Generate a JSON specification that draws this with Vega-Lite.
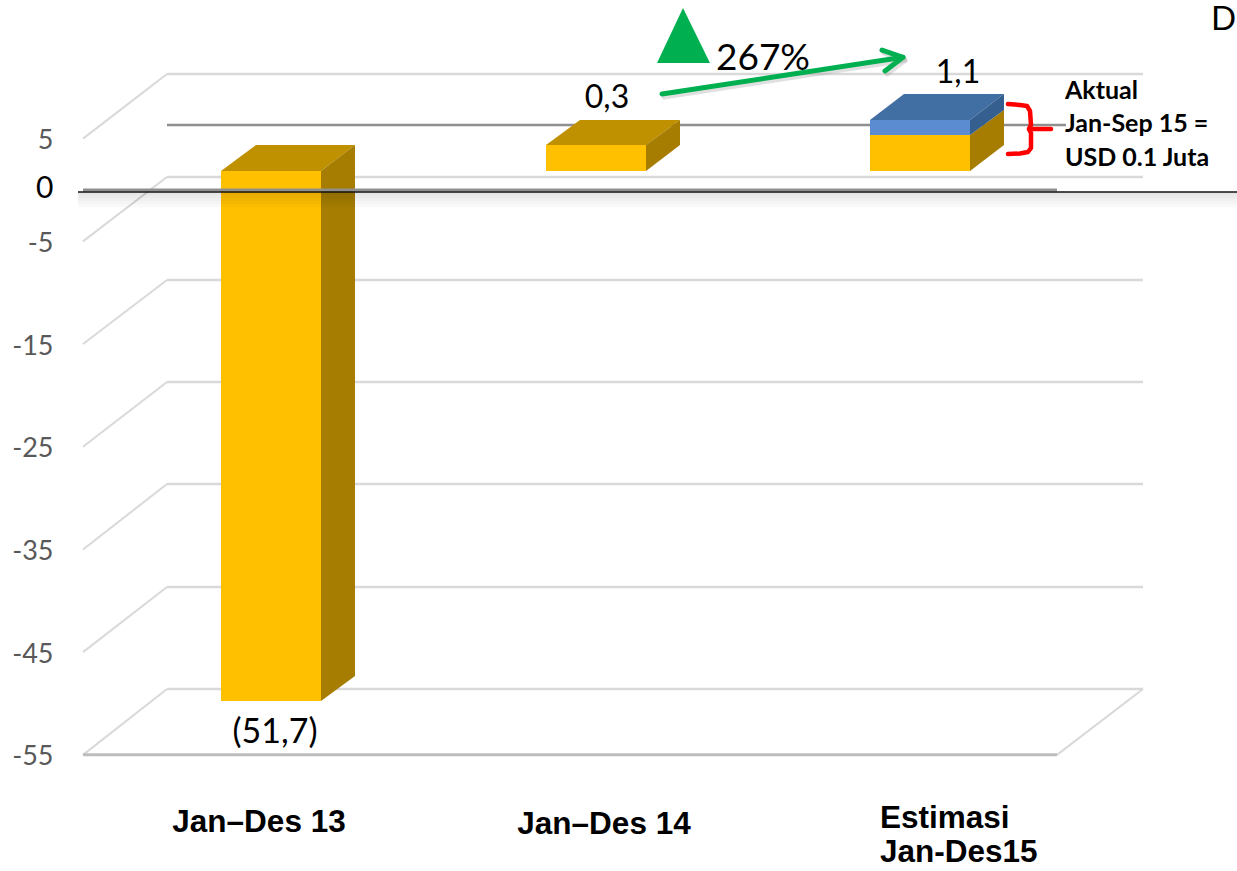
{"$schema":"https://vega.github.io/schema/vega-lite/v6.json","width":1237,"height":871,"padding":0,"autosize":{"type":"none"},"background":"white","config":{"view":{"stroke":null}},
"datasets":{
"rules":[
{"kind":"light","x":167,"x2":1143,"y":11.30},{"kind":"dark","x":167,"x2":1066,"y":6.33},{"kind":"light","x":167,"x2":1143,"y":1.27},{"kind":"light","x":167,"x2":1143,"y":-8.76},{"kind":"light","x":167,"x2":1143,"y":-18.70},{"kind":"light","x":167,"x2":1143,"y":-28.63},{"kind":"light","x":167,"x2":1143,"y":-38.66},{"kind":"light","x":167,"x2":1143,"y":-48.59},{"kind":"floor","x":83,"x2":1057,"y":-55},{"kind":"zero","x":83,"x2":1057,"y":0},{"kind":"zeroTop","x":78,"x2":1237,"y":-0.19}],
"slants":[
{"id":"5","x":83,"y":5},{"id":"5","x":167,"y":11.30},
{"id":"-5","x":83,"y":-5},{"id":"-5","x":167,"y":1.27},
{"id":"-15","x":83,"y":-15},{"id":"-15","x":167,"y":-8.76},
{"id":"-25","x":83,"y":-25},{"id":"-25","x":167,"y":-18.70},
{"id":"-35","x":83,"y":-35},{"id":"-35","x":167,"y":-28.63},
{"id":"-45","x":83,"y":-45},{"id":"-45","x":167,"y":-38.66},
{"id":"-55","x":83,"y":-55},{"id":"-55","x":167,"y":-48.59},
{"id":"right","x":1057,"y":-55},{"id":"right","x":1143,"y":-48.59}],
"faces":[
{"bar":"Jan–Des 13","face":"front","x":221,"y":1.85,"y2":-49.76},{"bar":"Jan–Des 13","face":"front","x":321,"y":1.85,"y2":-49.76},
{"bar":"Jan–Des 13","face":"top","x":221,"y":1.85,"y2":1.85},{"bar":"Jan–Des 13","face":"top","x":256,"y":4.38,"y2":1.85},{"bar":"Jan–Des 13","face":"top","x":321,"y":4.38,"y2":1.85},{"bar":"Jan–Des 13","face":"top","x":355,"y":4.38,"y2":4.38},
{"bar":"Jan–Des 13","face":"side","x":321,"y":1.85,"y2":-49.76},{"bar":"Jan–Des 13","face":"side","x":355,"y":4.38,"y2":-47.32},
{"bar":"Jan–Des 14","face":"front","x":546,"y":4.38,"y2":1.85},{"bar":"Jan–Des 14","face":"front","x":646,"y":4.38,"y2":1.85},
{"bar":"Jan–Des 14","face":"top","x":546,"y":4.38,"y2":4.38},{"bar":"Jan–Des 14","face":"top","x":580,"y":6.82,"y2":4.38},{"bar":"Jan–Des 14","face":"top","x":646,"y":6.82,"y2":4.38},{"bar":"Jan–Des 14","face":"top","x":680,"y":6.82,"y2":6.82},
{"bar":"Jan–Des 14","face":"side","x":646,"y":4.38,"y2":1.85},{"bar":"Jan–Des 14","face":"side","x":680,"y":6.82,"y2":4.38},
{"bar":"Estimasi Jan-Des15","face":"front","x":870,"y":5.36,"y2":1.85},{"bar":"Estimasi Jan-Des15","face":"front","x":970,"y":5.36,"y2":1.85},
{"bar":"Estimasi Jan-Des15","face":"side","x":970,"y":5.36,"y2":1.85},{"bar":"Estimasi Jan-Des15","face":"side","x":1004,"y":7.79,"y2":4.38},
{"bar":"Estimasi Jan-Des15","face":"blue front","x":870,"y":6.82,"y2":5.36},{"bar":"Estimasi Jan-Des15","face":"blue front","x":970,"y":6.82,"y2":5.36},
{"bar":"Estimasi Jan-Des15","face":"blue top","x":870,"y":6.82,"y2":6.82},{"bar":"Estimasi Jan-Des15","face":"blue top","x":904,"y":9.35,"y2":6.82},{"bar":"Estimasi Jan-Des15","face":"blue top","x":970,"y":9.35,"y2":6.82},{"bar":"Estimasi Jan-Des15","face":"blue top","x":1004,"y":9.35,"y2":9.35},
{"bar":"Estimasi Jan-Des15","face":"blue side","x":970,"y":6.82,"y2":5.36},{"bar":"Estimasi Jan-Des15","face":"blue side","x":1004,"y":9.35,"y2":7.79}],
"shade":[
{"x":78,"x2":1237,"y":-0.2,"y2":-0.5},{"x":78,"x2":1237,"y":-0.2,"y2":-0.8},{"x":78,"x2":1237,"y":-0.2,"y2":-1.1},{"x":78,"x2":1237,"y":-0.2,"y2":-1.4},{"x":78,"x2":1237,"y":-0.2,"y2":-1.7}],
"arrow":[
{"id":"shaft","o":1,"x":662,"y":9.35},{"id":"shaft","o":2,"x":903,"y":12.92},
{"id":"head","o":1,"x":882,"y":13.63},{"id":"head","o":2,"x":903,"y":12.92},{"id":"head","o":3,"x":885,"y":11.59}],
"triangle":[{"x":657,"y":12.37,"y2":12.37},{"x":683,"y":17.72,"y2":12.37},{"x":710,"y":12.37,"y2":12.37}],
"brace":[
{"id":"b","o":1,"x":1008,"y":8.37},{"id":"b","o":2,"x":1020,"y":8.28},{"id":"b","o":3,"x":1027,"y":8.18},{"id":"b","o":4,"x":1030,"y":7.69},{"id":"b","o":5,"x":1031,"y":6.33},{"id":"b","o":6,"x":1029,"y":5.94},{"id":"b","o":7,"x":1031,"y":5.55},{"id":"b","o":8,"x":1031,"y":4.09},{"id":"b","o":9,"x":1028,"y":3.7},{"id":"b","o":10,"x":1020,"y":3.55},{"id":"b","o":11,"x":1008,"y":3.51},
{"id":"t","o":1,"x":1029,"y":5.94},{"id":"t","o":2,"x":1051,"y":5.94}],
"labels":[
{"group":"cat","text":"Jan–Des 13","x":259,"y":-61.64},{"group":"cat","text":"Jan–Des 14","x":604,"y":-61.84},{"group":"catLeft","text":"Estimasi","x":880,"y":-61.25},{"group":"catLeft","text":"Jan-Des15","x":880,"y":-64.6},
{"group":"val","text":"0,3","x":607,"y":8.96},{"group":"val","text":"1,1","x":958,"y":11.39},{"group":"neg","text":"(51,7)","x":275,"y":-52.88},{"group":"pct","text":"267%","x":763,"y":12.75},{"group":"d","text":"D","x":1211,"y":16.6},
{"group":"note","text":"Aktual","x":1065,"y":9.68},{"group":"note","text":"Jan-Sep 15 =","x":1065,"y":6.42},{"group":"note","text":"USD 0.1 Juta","x":1065,"y":3.11}]
},
"encoding":{
"x":{"field":"x","type":"quantitative","scale":{"domain":[0,1237],"nice":false,"zero":false},"axis":null},
"y":{"field":"y","type":"quantitative","scale":{"domain":[-66.31,18.5],"nice":false,"zero":false},"axis":{"title":null,"values":[5,0,-5,-15,-25,-35,-45,-55],"grid":false,"domain":false,"ticks":false,"labelPadding":-53,"labelAlign":"right","labelBaseline":"middle","labelFont":"Lato","labelFontSize":{"condition":{"test":"datum.value===0","value":30},"value":27},"labelOverlap":false,"labelFlush":false,"labelExpr":"''+datum.value","labelColor":{"condition":{"test":"datum.value===0","value":"#000000"},"value":"#595959"},"labelOffset":{"condition":{"test":"datum.value===0","value":-1},"value":2},"zindex":1}}
},
"layer":[
{"data":{"name":"slants"},"mark":{"type":"line","stroke":"#d9d9d9","strokeWidth":2},"encoding":{"detail":{"field":"id"},"order":{"field":"x"}}},
{"data":{"name":"rules"},"transform":[{"filter":"datum.kind==='light'"}],"mark":{"type":"rule","stroke":"#d9d9d9","strokeWidth":2.5},"encoding":{"x2":{"field":"x2"}}},
{"data":{"name":"rules"},"transform":[{"filter":"datum.kind==='dark'"}],"mark":{"type":"rule","stroke":"#8f8f8f","strokeWidth":2.5},"encoding":{"x2":{"field":"x2"}}},
{"data":{"name":"rules"},"transform":[{"filter":"datum.kind==='floor'"}],"mark":{"type":"rule","stroke":"#bdbdbd","strokeWidth":3},"encoding":{"x2":{"field":"x2"}}},
{"data":{"name":"faces"},"transform":[{"filter":"datum.face==='front'"}],"mark":{"type":"area","orient":"vertical","fill":"#FFC000"},"encoding":{"y2":{"field":"y2"},"detail":{"field":"bar"}}},
{"data":{"name":"faces"},"transform":[{"filter":"datum.face==='top'"}],"mark":{"type":"area","orient":"vertical","fill":"#BF9000"},"encoding":{"y2":{"field":"y2"},"detail":{"field":"bar"}}},
{"data":{"name":"faces"},"transform":[{"filter":"datum.face==='side'"}],"mark":{"type":"area","orient":"vertical","fill":"#A67D00"},"encoding":{"y2":{"field":"y2"},"detail":{"field":"bar"}}},
{"data":{"name":"faces"},"transform":[{"filter":"datum.face==='blue front'"}],"mark":{"type":"area","orient":"vertical","fill":"#5B8BD0"},"encoding":{"y2":{"field":"y2"},"detail":{"field":"bar"}}},
{"data":{"name":"faces"},"transform":[{"filter":"datum.face==='blue top'"}],"mark":{"type":"area","orient":"vertical","fill":"#416EA3"},"encoding":{"y2":{"field":"y2"},"detail":{"field":"bar"}}},
{"data":{"name":"faces"},"transform":[{"filter":"datum.face==='blue side'"}],"mark":{"type":"area","orient":"vertical","fill":"#355F8E"},"encoding":{"y2":{"field":"y2"},"detail":{"field":"bar"}}},
{"data":{"name":"shade"},"mark":{"type":"rect","fill":"#000000","opacity":0.018},"encoding":{"x2":{"field":"x2"},"y2":{"field":"y2"}}},
{"data":{"name":"rules"},"transform":[{"filter":"datum.kind==='zero'"}],"mark":{"type":"rule","stroke":"#8f8f8f","strokeWidth":3},"encoding":{"x2":{"field":"x2"}}},
{"data":{"name":"rules"},"transform":[{"filter":"datum.kind==='zeroTop'"}],"mark":{"type":"rule","stroke":"#111111","strokeWidth":1.5},"encoding":{"x2":{"field":"x2"}}},
{"data":{"name":"triangle"},"mark":{"type":"area","orient":"vertical","fill":"#00B050"},"encoding":{"y2":{"field":"y2"}}},
{"data":{"name":"arrow"},"mark":{"type":"line","stroke":"#999999","strokeWidth":5,"opacity":0.3,"xOffset":2,"yOffset":3,"strokeJoin":"round","strokeCap":"round"},"encoding":{"detail":{"field":"id"},"order":{"field":"o"}}},
{"data":{"name":"labels"},"transform":[{"filter":"datum.group==='cat'"}],"mark":{"type":"text","font":"Liberation Sans","fontWeight":"bold","fontSize":31.5,"align":"center","baseline":"middle","fill":"#000000"},"encoding":{"text":{"field":"text"}}},
{"data":{"name":"labels"},"transform":[{"filter":"datum.group==='catLeft'"}],"mark":{"type":"text","font":"Liberation Sans","fontWeight":"bold","fontSize":31.5,"align":"left","baseline":"middle","fill":"#000000"},"encoding":{"text":{"field":"text"}}},
{"data":{"name":"labels"},"transform":[{"filter":"datum.group==='val'"}],"mark":{"type":"text","font":"Lato","fontSize":32,"align":"center","baseline":"middle","fill":"#000000"},"encoding":{"text":{"field":"text"}}},
{"data":{"name":"labels"},"transform":[{"filter":"datum.group==='neg'"}],"mark":{"type":"text","font":"Lato","fontSize":34,"align":"center","baseline":"middle","fill":"#000000"},"encoding":{"text":{"field":"text"}}},
{"data":{"name":"labels"},"transform":[{"filter":"datum.group==='pct'"}],"mark":{"type":"text","font":"Lato","fontSize":37,"align":"center","baseline":"middle","fill":"#000000"},"encoding":{"text":{"field":"text"}}},
{"data":{"name":"labels"},"transform":[{"filter":"datum.group==='d'"}],"mark":{"type":"text","font":"Lato","fontSize":33,"align":"left","baseline":"middle","fill":"#000000"},"encoding":{"text":{"field":"text"}}},
{"data":{"name":"labels"},"transform":[{"filter":"datum.group==='note'"}],"mark":{"type":"text","font":"Lato","fontWeight":"bold","fontSize":25,"align":"left","baseline":"middle","fill":"#000000"},"encoding":{"text":{"field":"text"}}},
{"data":{"name":"arrow"},"mark":{"type":"line","stroke":"#00B050","strokeWidth":5,"strokeJoin":"round","strokeCap":"round"},"encoding":{"detail":{"field":"id"},"order":{"field":"o"}}},
{"data":{"name":"brace"},"mark":{"type":"line","stroke":"#FF0000","strokeWidth":4.5,"interpolate":"linear","strokeJoin":"round","strokeCap":"round"},"encoding":{"detail":{"field":"id"},"order":{"field":"o"}}}
]}
